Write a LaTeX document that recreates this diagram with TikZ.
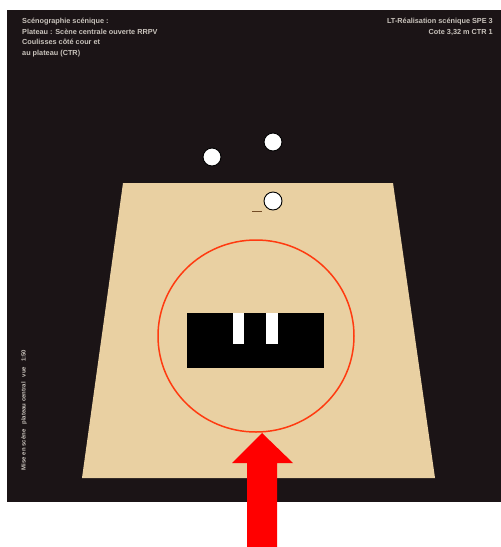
\documentclass[tikz,border=0pt]{standalone}
\usepackage{fontspec}
\setmainfont{Liberation Sans}
\begin{document}
\begin{tikzpicture}[x=1pt,y=-1pt,
  bgdark/.style={fill=darkbg,draw=none},
  stage/.style={fill=stagebeige,draw=none},
  dot/.style={circle,fill=white,draw=black,line width=0.9pt,minimum size=18pt,inner sep=0pt},
  caption/.style={text=captiongray,font=\fontsize{7.3}{10.5}\selectfont\bfseries,inner sep=0pt},
  redring/.style={draw=ringred,line width=1.5pt},
  bigarrow/.style={fill=arrowred,draw=none}]
\definecolor{darkbg}{HTML}{1B1416}
\definecolor{stagebeige}{HTML}{E9D0A2}
\definecolor{captiongray}{HTML}{C9C3BC}
\definecolor{ringred}{HTML}{FF3A10}
\definecolor{arrowred}{HTML}{FF0000}
\useasboundingbox (0,0) rectangle (501,547);
\fill[white] (0,0) rectangle (501,547);
% dark backdrop
\path[bgdark] (7,10) rectangle (501,502);
% stage floor
\path[stage] (123,183) -- (393,183) -- (435,478) -- (82,478) -- cycle;
% captions
\node[caption,anchor=north west,align=left] (capL) at (22,18)
  {Scénographie scénique :\\Plateau : Scène centrale ouverte RRPV\\Coulisses côté cour et\\au plateau (CTR)};
\node[caption,anchor=north east,align=right] (capR) at (493,18)
  {LT-Réalisation scénique SPE 3\\Cote 3,32 m CTR 1};
\node[caption,rotate=90,anchor=center,font=\fontsize{6}{7}\selectfont\bfseries] (capV) at (24,410)
  {Mise en scène ~ plateau central ~ vue ~ 1:50};
% performers
\node[dot] (p1) at (212,157) {};
\node[dot] (p2) at (273,142) {};
\node[dot] (p3) at (273,201) {};
\draw[draw=brown!60!black,line width=1pt] (252,211) -- (262,211);
% focus ring
\draw[redring] (256,336) ellipse [x radius=98, y radius=96];
% black table with two white bars
\node[fill=black,minimum width=137pt,minimum height=55pt,inner sep=0pt,anchor=north west] (table) at (187,313) {};
\node[fill=white,minimum width=11pt,minimum height=31pt,inner sep=0pt,anchor=north west] (bar1) at (233,313) {};
\node[fill=white,minimum width=12pt,minimum height=31pt,inner sep=0pt,anchor=north west] (bar2) at (266,313) {};
% entry arrow
\path[bigarrow] (247,547) -- (247,463) -- (232,463) -- (262,433) -- (293,463) -- (277,463) -- (277,547) -- cycle;
\end{tikzpicture}
\end{document}
